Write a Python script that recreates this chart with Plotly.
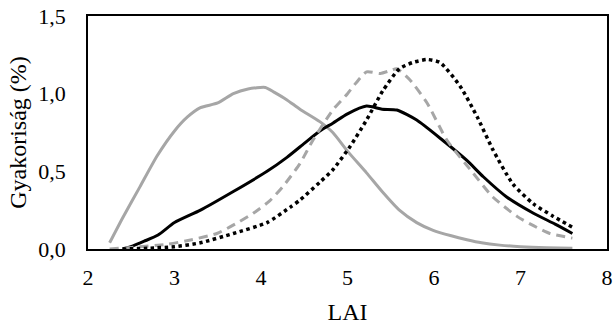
import plotly.graph_objects as go

# LAI frequency distributions (%), four model/measurement series
lai_a = [2.25, 2.4, 2.6, 2.8, 3.0, 3.15, 3.3, 3.5, 3.68, 3.85, 4.05, 4.15, 4.3, 4.45, 4.68, 4.83, 5.0, 5.22, 5.4, 5.6, 5.8, 5.99, 6.2, 6.38, 6.55, 6.76, 7.0, 7.3, 7.6]
freq_a = [0.04, 0.2, 0.4, 0.6, 0.76, 0.85, 0.91, 0.94, 1.0, 1.03, 1.04, 1.01, 0.96, 0.9, 0.82, 0.75, 0.63, 0.49, 0.37, 0.25, 0.17, 0.12, 0.085, 0.06, 0.04, 0.025, 0.015, 0.008, 0.005]

lai_b = [2.4, 2.52, 2.65, 2.81, 3.0, 3.3, 3.68, 4.07, 4.3, 4.5, 4.68, 4.83, 5.0, 5.22, 5.4, 5.57, 5.8, 6.1, 6.38, 6.57, 6.84, 7.15, 7.4, 7.6]
freq_b = [0.0, 0.02, 0.05, 0.09, 0.17, 0.25, 0.37, 0.5, 0.59, 0.68, 0.76, 0.81, 0.87, 0.92, 0.9, 0.895, 0.83, 0.7, 0.57, 0.465, 0.335, 0.23, 0.16, 0.1]

lai_c = [2.25, 2.5, 2.91, 3.2, 3.49, 3.7, 3.91, 4.1, 4.25, 4.45, 4.6, 4.83, 5.0, 5.1, 5.22, 5.38, 5.5, 5.57, 5.72, 5.92, 6.15, 6.45, 6.68, 6.96, 7.15, 7.34, 7.6]
freq_c = [0.0, 0.01, 0.03, 0.06, 0.1, 0.16, 0.23, 0.31, 0.4, 0.55, 0.7, 0.895, 1.0, 1.07, 1.14, 1.13, 1.15, 1.16, 1.09, 0.94, 0.7, 0.49, 0.335, 0.21, 0.15, 0.1, 0.07]

lai_d = [2.4, 2.7, 3.0, 3.3, 3.68, 4.07, 4.34, 4.45, 4.68, 4.83, 5.03, 5.22, 5.41, 5.6, 5.75, 5.92, 6.07, 6.3, 6.5, 6.68, 6.91, 7.15, 7.38, 7.6]
freq_d = [0.0, 0.005, 0.015, 0.04, 0.1, 0.17, 0.27, 0.315, 0.43, 0.51, 0.66, 0.83, 1.02, 1.16, 1.2, 1.22, 1.2, 1.05, 0.85, 0.64, 0.42, 0.29, 0.21, 0.14]

x_ticks = [2, 3, 4, 5, 6, 7, 8]
y_ticks = [0.0, 0.5, 1.0, 1.5]

GRAY = "#a6a6a6"
FONT = "Liberation Serif"
TICK_FONT = dict(family=FONT, size=22, color="#000000")
TITLE_FONT = dict(family=FONT, size=24, color="#000000")

fig = go.Figure()
fig.add_trace(go.Scatter(x=lai_a, y=freq_a, mode="lines",
                         line=dict(color=GRAY, width=3, shape="spline", smoothing=0.6)))
fig.add_trace(go.Scatter(x=lai_b, y=freq_b, mode="lines",
                         line=dict(color="#000000", width=3, shape="spline", smoothing=0.6)))
fig.add_trace(go.Scatter(x=lai_c, y=freq_c, mode="lines",
                         line=dict(color=GRAY, width=3, dash="9px,6px", shape="spline", smoothing=0.6)))
fig.add_trace(go.Scatter(x=lai_d, y=freq_d, mode="lines",
                         line=dict(color="#000000", width=3.5, dash="dot", shape="spline", smoothing=0.6)))

fig.update_layout(
    width=614, height=325,
    margin=dict(l=88, r=7, t=16, b=76),
    paper_bgcolor="white", plot_bgcolor="white",
    showlegend=False,
    separators=", ",
    font=dict(family=FONT, size=22, color="#000000"),
    xaxis=dict(range=[2, 8], tickvals=x_ticks, showgrid=False, zeroline=False,
               showline=True, linecolor="#000000", linewidth=1.5, mirror=True,
               ticks="", ticklabelstandoff=8, tickfont=TICK_FONT, automargin=False,
               title=dict(text="LAI", font=TITLE_FONT, standoff=26)),
    yaxis=dict(range=[0, 1.5], tickvals=y_ticks, tickformat=".1f", showgrid=False,
               zeroline=False, showline=True, linecolor="#000000", linewidth=1.5,
               mirror=True, ticks="", ticklabelstandoff=16, tickfont=TICK_FONT,
               automargin=False,
               title=dict(text="Gyakoriság (%)", font=TITLE_FONT, standoff=5)),
)

fig.write_html("out.html")
